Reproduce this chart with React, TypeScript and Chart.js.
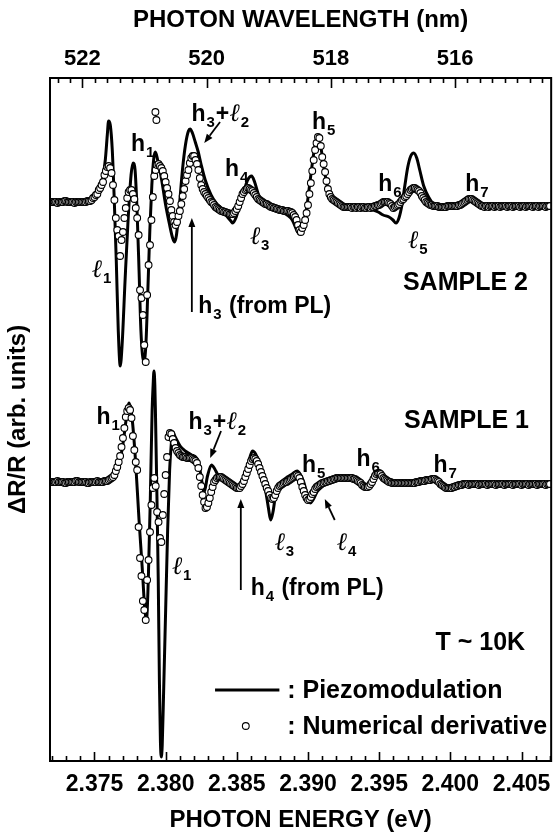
import React, { useEffect, useRef } from 'react';
import { Chart, registerables } from 'chart.js';

Chart.register(...registerables);

// ---------- data ----------
// Photon-energy sampling grid of the numerical derivative (eV)
const DERIV_ENERGY = [
  2.3720, 2.3721, 2.3722, 2.3723, 2.3724, 2.3725, 2.3726, 2.3727, 2.3728, 2.3729,
  2.3730, 2.3731, 2.3732, 2.3733, 2.3734, 2.3735, 2.3736, 2.3737, 2.3738, 2.3739,
  2.3740, 2.3741, 2.3742, 2.3743, 2.3744, 2.3745, 2.3746, 2.3747, 2.3748, 2.3749,
  2.3750, 2.3751, 2.3752, 2.3753, 2.3754, 2.3755, 2.3756, 2.3757, 2.3758, 2.3759,
  2.3760, 2.3761, 2.3762, 2.3763, 2.3764, 2.3765, 2.3766, 2.3767, 2.3768, 2.3769,
  2.3770, 2.3771, 2.3772, 2.3773, 2.3774, 2.3775, 2.3776, 2.3777, 2.3778, 2.3779,
  2.3780, 2.3781, 2.3782, 2.3783, 2.3784, 2.3785, 2.3786, 2.3787, 2.3788, 2.3789,
  2.3790, 2.3791, 2.3792, 2.3793, 2.3794, 2.3795, 2.3796, 2.3797, 2.3798, 2.3799,
  2.3800, 2.3801, 2.3802, 2.3803, 2.3804, 2.3805, 2.3806, 2.3807, 2.3808, 2.3809,
  2.3810, 2.3811, 2.3812, 2.3813, 2.3814, 2.3815, 2.3816, 2.3817, 2.3818, 2.3819,
  2.3820, 2.3821, 2.3822, 2.3823, 2.3824, 2.3825, 2.3826, 2.3827, 2.3828, 2.3829,
  2.3830, 2.3831, 2.3832, 2.3833, 2.3834, 2.3835, 2.3836, 2.3837, 2.3838, 2.3839,
  2.3840, 2.3841, 2.3842, 2.3843, 2.3844, 2.3845, 2.3846, 2.3847, 2.3848, 2.3849,
  2.3850, 2.3851, 2.3852, 2.3853, 2.3854, 2.3855, 2.3856, 2.3857, 2.3858, 2.3859,
  2.3860, 2.3861, 2.3862, 2.3863, 2.3864, 2.3865, 2.3866, 2.3867, 2.3868, 2.3869,
  2.3870, 2.3871, 2.3872, 2.3873, 2.3874, 2.3875, 2.3876, 2.3877, 2.3878, 2.3879,
  2.3880, 2.3881, 2.3882, 2.3883, 2.3884, 2.3885, 2.3886, 2.3887, 2.3888, 2.3889,
  2.3890, 2.3891, 2.3892, 2.3893, 2.3894, 2.3895, 2.3896, 2.3897, 2.3898, 2.3899,
  2.3900, 2.3901, 2.3902, 2.3903, 2.3904, 2.3905, 2.3906, 2.3907, 2.3908, 2.3909,
  2.3910, 2.3911, 2.3912, 2.3913, 2.3914, 2.3915, 2.3916, 2.3917, 2.3918, 2.3919,
  2.3920, 2.3921, 2.3922, 2.3923, 2.3924, 2.3925, 2.3926, 2.3927, 2.3928, 2.3929,
  2.3930, 2.3931, 2.3932, 2.3933, 2.3934, 2.3935, 2.3936, 2.3937, 2.3938, 2.3939,
  2.3940, 2.3941, 2.3942, 2.3943, 2.3944, 2.3945, 2.3946, 2.3947, 2.3948, 2.3949,
  2.3950, 2.3951, 2.3952, 2.3953, 2.3954, 2.3955, 2.3956, 2.3957, 2.3958, 2.3959,
  2.3960, 2.3961, 2.3962, 2.3963, 2.3964, 2.3965, 2.3966, 2.3967, 2.3968, 2.3969,
  2.3970, 2.3971, 2.3972, 2.3973, 2.3974, 2.3975, 2.3976, 2.3977, 2.3978, 2.3979,
  2.3980, 2.3981, 2.3982, 2.3983, 2.3984, 2.3985, 2.3986, 2.3987, 2.3988, 2.3989,
  2.3990, 2.3991, 2.3992, 2.3993, 2.3994, 2.3995, 2.3996, 2.3997, 2.3998, 2.3999,
  2.4000, 2.4001, 2.4002, 2.4003, 2.4004, 2.4005, 2.4006, 2.4007, 2.4008, 2.4009,
  2.4010, 2.4011, 2.4012, 2.4013, 2.4014, 2.4015, 2.4016, 2.4017, 2.4018, 2.4019,
  2.4020, 2.4021, 2.4022, 2.4023, 2.4024, 2.4025, 2.4026, 2.4027, 2.4028, 2.4029,
  2.4030, 2.4031, 2.4032, 2.4033, 2.4034, 2.4035, 2.4036, 2.4037, 2.4038, 2.4039,
  2.4040, 2.4041, 2.4042, 2.4043, 2.4044, 2.4045, 2.4046, 2.4047, 2.4048, 2.4049,
  2.4050, 2.4051, 2.4052, 2.4053, 2.4054, 2.4055, 2.4056, 2.4057, 2.4058, 2.4059,
  2.4060, 2.4061, 2.4062, 2.4063, 2.4064, 2.4065, 2.4066, 2.4067, 2.4068, 2.4069,
  2.4070,
];

// SAMPLE 2 — numerical derivative (arb. units)
const S2_DERIV = [
  2, 2, 2, 2, 1, 2, 2, 2, 2, 3,
  3, 2, 2, 2, 2, 2, 1, 2, 2, 2,
  2, 2, 2, 2, 2, 3, 3, 3, 4, 6,
  7, 9, 10, 14, 16, 19, 22, 29, 33, 37,
  38, 36, 31, 19, 4, -14, -26, -32, -52, -36,
  -28, -14, -4, 6, 12, 14, 14, 10, 5, -4,
  -14, -31, -86, -94, -111, -141, -158, -91, -61, -41,
  -16, 7, 28, 34, 39, 40, 38, 36, 33, 28,
  22, 16, 10, 3, -6, -12, -18, -21, -18, -12,
  -7, 0, 8, 15, 23, 29, 34, 41, 46, 48,
  48, 44, 40, 34, 26, 19, 15, 12, 10, 8,
  6, 4, 2, 1, -1, -3, -4, -5, -6, -7,
  -7, -8, -8, -9, -9, -10, -10, -10, -9, -7,
  -5, -2, 2, 6, 10, 12, 14, 15, 16, 15,
  14, 13, 11, 9, 7, 5, 4, 3, 2, 1,
  0, 0, -1, -2, -3, -3, -4, -4, -5, -5,
  -6, -6, -6, -7, -7, -7, -7, -8, -8, -9,
  -11, -13, -16, -21, -26, -28, -24, -21, -16, -9,
  -1, 10, 21, 33, 44, 54, 61, 67, 66, 58,
  47, 40, 32, 23, 15, 10, 7, 5, 4, 3,
  2, 1, 0, -1, -2, -3, -3, -3, -3, -3,
  -3, -4, -3, -3, -4, -3, -3, -4, -3, -3,
  -4, -4, -3, -3, -4, -3, -3, -2, -2, -1,
  -1, 0, 1, 2, 2, 2, 2, 1, 0, -2,
  -4, -3, -2, -1, 0, 2, 4, 5, 7, 8,
  10, 12, 14, 15, 16, 16, 15, 14, 13, 11,
  8, 6, 4, 2, 1, 0, -1, -1, -2, -2,
  -2, -2, -3, -3, -3, -3, -3, -3, -2, -2,
  -2, -2, -2, -2, -2, -2, -1, -1, 0, 1,
  2, 3, 4, 5, 5, 5, 4, 3, 2, 1,
  0, -1, -2, -2, -3, -2, -2, -3, -2, -2,
  -2, -3, -2, -2, -2, -3, -2, -2, -2, -2,
  -3, -2, -2, -2, -3, -2, -2, -2, -2, -3,
  -2, -2, -2, -3, -2, -2, -2, -2, -3, -2,
  -2, -2, -3, -2, -2, -2, -2, -3, -2, -2,
  -2,
];
const S2_DERIV_EXTRA_E = [2.37928, 2.37935];
const S2_DERIV_EXTRA_V = [92, 84];

// SAMPLE 2 — piezomodulation
const S2_PIEZO_E = [
  2.37188, 2.37326, 2.37431, 2.37465, 2.37500, 2.37535, 2.37556, 2.37576, 2.37590, 2.37599,
  2.37611, 2.37625, 2.37639, 2.37653, 2.37667, 2.37681, 2.37694, 2.37715, 2.37736, 2.37757,
  2.37771, 2.37785, 2.37799, 2.37813, 2.37826, 2.37847, 2.37861, 2.37875, 2.37889, 2.37903,
  2.37917, 2.37928, 2.37944, 2.37972, 2.38000, 2.38028, 2.38049, 2.38063, 2.38076, 2.38097,
  2.38118, 2.38139, 2.38160, 2.38172, 2.38188, 2.38208, 2.38229, 2.38250, 2.38278, 2.38319,
  2.38354, 2.38389, 2.38424, 2.38458, 2.38472, 2.38493, 2.38521, 2.38549, 2.38576, 2.38604,
  2.38625, 2.38653, 2.38681, 2.38715, 2.38785, 2.38854, 2.38889, 2.38924, 2.38938, 2.38958,
  2.38986, 2.39007, 2.39028, 2.39049, 2.39069, 2.39090, 2.39111, 2.39139, 2.39167, 2.39201,
  2.39271, 2.39340, 2.39410, 2.39458, 2.39493, 2.39528, 2.39569, 2.39597, 2.39618, 2.39639,
  2.39660, 2.39681, 2.39701, 2.39722, 2.39743, 2.39764, 2.39785, 2.39813, 2.39847, 2.39896,
  2.39965, 2.40035, 2.40104, 2.40153, 2.40194, 2.40243, 2.40313, 2.40451, 2.40590, 2.40708,
];
const S2_PIEZO_V = [
  2, 2, 2, 4, 7, 14, 24, 44, 69, 83,
  79, 54, 4, -56, -126, -162, -141, -76, -16, 29,
  41, 34, -6, -66, -126, -158, -141, -86, -26, 19,
  46, 52, 44, 24, -1, -21, -34, -38, -31, -1,
  34, 59, 73, 75, 71, 62, 52, 39, 24, 9,
  1, -4, -11, -17, -19, -14, -1, 12, 24, 28,
  22, 9, 2, -1, -6, -11, -16, -27, -30, -24,
  -8, 14, 38, 58, 65, 57, 37, 16, 8, 4,
  -2, -4, -5, -6, -8, -11, -13, -16, -19, -14,
  -1, 19, 37, 48, 51, 46, 34, 18, 7, -2,
  -4, -2, 1, 4, 2, -2, -3, -2, -2, -2,
];

// SAMPLE 1 — numerical derivative
const S1_DERIV = [
  0, 0, 0, 0, 1, 0, 0, 0, 0, -1,
  -1, 0, 0, 0, 0, 0, 0, 1, 1, 0,
  0, 0, 0, 0, 0, -1, -1, 0, 0, 0,
  0, 0, 1, 0, 0, 0, 0, 1, 1, 1,
  2, 3, 4, 5, 7, 11, 15, 20, 26, 35,
  44, 54, 65, 71, 74, 72, 64, 46, 32, 20,
  12, -45, -76, -94, -119, -128, -138, -98, -78, -50,
  -23, -6, 4, -4, -30, -40, -56, -60, -33, -12,
  7, 25, 45, 49, 48, 43, 39, 34, 31, 29,
  27, 26, 25, 25, 25, 24, 24, 24, 24, 23,
  22, 21, 19, 14, 5, -4, -13, -20, -26, -25,
  -21, -16, -10, -5, 0, 2, 4, 5, 5, 5,
  4, 3, 2, 1, 0, -1, -2, -3, -4, -5,
  -6, -6, -6, -4, -2, 1, 5, 9, 13, 17,
  21, 23, 24, 23, 21, 18, 14, 10, 6, 2,
  -2, -6, -9, -13, -16, -17, -16, -13, -9, -6,
  -4, -3, -2, -1, 0, 0, 1, 2, 3, 4,
  5, 6, 7, 6, 4, 0, -5, -9, -13, -16,
  -18, -17, -15, -12, -10, -7, -5, -4, -3, -2,
  -1, -1, 0, 0, 1, 1, 2, 2, 3, 3,
  4, 4, 4, 4, 4, 4, 4, 4, 4, 4,
  4, 4, 3, 3, 2, 1, 0, -1, -3, -4,
  -5, -5, -5, -4, -2, 0, 3, 6, 8, 9,
  9, 8, 6, 4, 3, 2, 1, 0, 0, -1,
  -1, -1, -1, -1, -1, -1, -1, -1, -1, -1,
  -1, -1, -1, -1, -1, -1, 0, 0, 0, 1,
  1, 1, 1, 2, 2, 2, 2, 3, 3, 3,
  2, 1, 0, -2, -3, -4, -5, -6, -6, -6,
  -6, -6, -5, -5, -4, -4, -3, -3, -3, -2,
  -2, -2, -2, -3, -2, -2, -2, -2, -2, -2,
  -3, -2, -2, -2, -2, -2, -3, -2, -2, -2,
  -2, -2, -3, -2, -2, -2, -2, -2, -3, -2,
  -2, -2, -2, -2, -3, -2, -2, -2, -2, -2,
  -3, -2, -2, -2, -2, -3, -2, -2, -2, -2,
  -2, -3, -2, -2, -2, -2, -2, -3, -2, -2,
  -2,
];

// SAMPLE 1 — piezomodulation
const S1_PIEZO_E = [
  2.37188, 2.37396, 2.37569, 2.37604, 2.37632, 2.37660, 2.37681, 2.37701, 2.37722, 2.37743,
  2.37764, 2.37788, 2.37813, 2.37835, 2.37854, 2.37865, 2.37878, 2.37892, 2.37905, 2.37912,
  2.37918, 2.37924, 2.37928, 2.37938, 2.37948, 2.37956, 2.37963, 2.37969, 2.37976, 2.37986,
  2.38000, 2.38014, 2.38028, 2.38040, 2.38049, 2.38067, 2.38102, 2.38137, 2.38183, 2.38217,
  2.38241, 2.38271, 2.38294, 2.38322, 2.38345, 2.38368, 2.38403, 2.38438, 2.38472, 2.38507,
  2.38530, 2.38554, 2.38576, 2.38597, 2.38611, 2.38632, 2.38658, 2.38681, 2.38704, 2.38722,
  2.38738, 2.38754, 2.38773, 2.38792, 2.38819, 2.38854, 2.38889, 2.38924, 2.38944, 2.38970,
  2.38993, 2.39016, 2.39035, 2.39063, 2.39097, 2.39155, 2.39201, 2.39271, 2.39326, 2.39375,
  2.39410, 2.39438, 2.39465, 2.39491, 2.39514, 2.39549, 2.39604, 2.39665, 2.39757, 2.39826,
  2.39896, 2.39938, 2.39979, 2.40012, 2.40056, 2.40125, 2.40243, 2.40451, 2.40708,
];
const S1_PIEZO_V = [
  0, 0, 0, 1, 4, 12, 23, 39, 62, 79,
  64, 22, -38, -85, -128, -138, -98, -18, 72, 97,
  111, 97, 72, -8, -98, -198, -258, -275, -263, -208,
  -128, -48, 12, 39, 50, 45, 36, 31, 27, 24,
  12, -10, 6, 17, 13, 7, 4, 1, -3, -6,
  -6, 4, 16, 27, 31, 28, 19, 7, -10, -26,
  -38, -30, -12, -4, 1, 5, 8, 11, 8, 0,
  -12, -21, -18, -10, -5, 0, 2, 4, 3, -1,
  -5, -3, 4, 9, 7, 2, -1, -1, 0, 1,
  3, -1, -5, -6, -4, -2, -2, -2, -2,
];

// vertical stacking offsets of the two spectra (arb. units)
const SAMPLE2_OFFSET = 557;
const SAMPLE1_OFFSET = 279;

// axes
const ENERGY_MIN = 2.371875;
const ENERGY_MAX = 2.407083;
const ENERGY_TICK_LABELS = [2.375, 2.38, 2.385, 2.39, 2.395, 2.4, 2.405];
const WAVELENGTH_MIN = 514.452;
const WAVELENGTH_MAX = 522.521;
const WAVELENGTH_TICK_LABELS = [522, 520, 518, 516];
const Y_MIN = 0;
const Y_MAX = 683;

const ENERGY_MINOR: number[] = [];
for (let k = 2372; k <= 2407; k++) ENERGY_MINOR.push(k / 1000);
const WAVELENGTH_MINOR: number[] = [];
for (let k = 5146; k <= 5224; k += 2) WAVELENGTH_MINOR.push(k / 10);

// ---------- annotations ----------
const FONT = '"Liberation Sans", Arial, Helvetica, sans-serif';
const ELL_FONT = '"DejaVu Serif", "Liberation Serif", serif';

type Part = { t: string; kind?: 'sub' | 'ell' };
type Label = { x: number; y: number; parts: Part[]; size?: number };
const H = (n: string): Part[] => [{ t: 'h' }, { t: n, kind: 'sub' }];
const L = (n: string): Part[] => [{ t: 'ℓ', kind: 'ell' }, { t: n, kind: 'sub' }];

const LABELS: Label[] = [
  // sample 2
  { x: 2.37479, y: 484, parts: L('1') },
  { x: 2.37757, y: 610, parts: H('1') },
  { x: 2.38181, y: 640, parts: [...H('3'), { t: '+' }, ...L('2')] },
  { x: 2.38417, y: 585, parts: H('4') },
  { x: 2.38590, y: 517, parts: L('3') },
  { x: 2.39028, y: 632, parts: H('5') },
  { x: 2.39493, y: 570, parts: H('6') },
  { x: 2.39701, y: 513, parts: L('5') },
  { x: 2.40104, y: 570, parts: H('7') },
  { x: 2.38229, y: 448, parts: [...H('3'), { t: ' (from PL)' }] },
  { x: 2.39667, y: 471, parts: [{ t: 'SAMPLE 2' }], size: 25 },
  // sample 1
  { x: 2.37514, y: 337, parts: H('1') },
  { x: 2.38160, y: 332, parts: [...H('3'), { t: '+' }, ...L('2')] },
  { x: 2.38042, y: 187, parts: L('1') },
  { x: 2.38764, y: 211, parts: L('3') },
  { x: 2.38597, y: 166, parts: [...H('4'), { t: ' (from PL)' }] },
  { x: 2.38958, y: 289, parts: H('5') },
  { x: 2.39201, y: 211, parts: L('4') },
  { x: 2.39340, y: 295, parts: H('6') },
  { x: 2.39882, y: 289, parts: H('7') },
  { x: 2.39674, y: 333, parts: [{ t: 'SAMPLE 1' }], size: 25 },
  { x: 2.39896, y: 111, parts: [{ t: 'T ~ 10K' }], size: 25 },
];

const ARROWS = [
  { x1: 2.38382, y1: 639, x2: 2.38271, y2: 618 },
  { x1: 2.38184, y1: 449, x2: 2.38184, y2: 543 },
  { x1: 2.38389, y1: 330, x2: 2.38313, y2: 303 },
  { x1: 2.38528, y1: 171, x2: 2.38528, y2: 262 },
  { x1: 2.39188, y1: 241, x2: 2.39118, y2: 262 },
];

const LEGEND = {
  lineX1: 2.38347, lineX2: 2.38799, lineY: 71,
  markX: 2.38563, markY: 35,
  textX: 2.38854,
};

const isIn = (v: number, arr: number[]) => arr.some((a) => Math.abs(a - v) < 1e-6);

const overlayPlugin = {
  id: 'overlay',
  beforeDraw(chart: any) {
    const { ctx } = chart;
    ctx.save();
    ctx.fillStyle = '#fff';
    ctx.fillRect(0, 0, chart.width, chart.height);
    ctx.restore();
  },
  afterDraw(chart: any) {
    const { ctx, chartArea: a, scales } = chart;
    const xs = scales.x;
    const xt = scales.xTop;
    const ys = scales.y;
    ctx.save();
    ctx.strokeStyle = '#000';
    ctx.fillStyle = '#000';
    ctx.lineWidth = 2;
    ctx.strokeRect(a.left, a.top, a.right - a.left, a.bottom - a.top);
    // inward tick marks
    ctx.lineWidth = 1.6;
    ctx.beginPath();
    for (const t of xs.ticks) {
      const px = Math.round(xs.getPixelForValue(t.value)) + 0.5;
      const len = isIn(t.value, ENERGY_TICK_LABELS) ? 9 : 5;
      ctx.moveTo(px, a.bottom);
      ctx.lineTo(px, a.bottom - len);
    }
    for (const t of xt.ticks) {
      const px = Math.round(xt.getPixelForValue(t.value)) + 0.5;
      const len = isIn(t.value, WAVELENGTH_TICK_LABELS) ? 10 : 5;
      ctx.moveTo(px, a.top);
      ctx.lineTo(px, a.top + len);
    }
    ctx.stroke();

    // labels
    ctx.textBaseline = 'alphabetic';
    ctx.textAlign = 'left';
    for (const l of LABELS) {
      let cx = xs.getPixelForValue(l.x);
      const by = ys.getPixelForValue(l.y);
      const size = l.size || 23;
      for (const p of l.parts) {
        if (p.kind === 'sub') {
          ctx.font = `bold 15px ${FONT}`;
          ctx.fillText(p.t, cx + 1, by + 6);
          cx += ctx.measureText(p.t).width + 2;
        } else if (p.kind === 'ell') {
          ctx.font = `italic 25px ${ELL_FONT}`;
          ctx.fillText(p.t, cx, by);
          cx += ctx.measureText(p.t).width;
        } else {
          ctx.font = `bold ${size}px ${FONT}`;
          ctx.fillText(p.t, cx, by);
          cx += ctx.measureText(p.t).width;
        }
      }
    }

    // arrows
    ctx.lineWidth = 1.8;
    for (const ar of ARROWS) {
      const x1 = xs.getPixelForValue(ar.x1), y1 = ys.getPixelForValue(ar.y1);
      const x2 = xs.getPixelForValue(ar.x2), y2 = ys.getPixelForValue(ar.y2);
      const ang = Math.atan2(y2 - y1, x2 - x1);
      const hl = 9, hw = 3.5;
      const bx = x2 - hl * Math.cos(ang), by = y2 - hl * Math.sin(ang);
      ctx.beginPath();
      ctx.moveTo(x1, y1);
      ctx.lineTo(bx, by);
      ctx.stroke();
      ctx.beginPath();
      ctx.moveTo(x2, y2);
      ctx.lineTo(bx + hw * Math.sin(ang), by - hw * Math.cos(ang));
      ctx.lineTo(bx - hw * Math.sin(ang), by + hw * Math.cos(ang));
      ctx.closePath();
      ctx.fill();
    }

    // legend
    const lx1 = xs.getPixelForValue(LEGEND.lineX1), lx2 = xs.getPixelForValue(LEGEND.lineX2);
    const ly = ys.getPixelForValue(LEGEND.lineY);
    ctx.lineWidth = 3;
    ctx.beginPath();
    ctx.moveTo(lx1, ly);
    ctx.lineTo(lx2, ly);
    ctx.stroke();
    const mx = xs.getPixelForValue(LEGEND.markX), my = ys.getPixelForValue(LEGEND.markY);
    ctx.lineWidth = 1.1;
    ctx.beginPath();
    ctx.arc(mx, my, 3.4, 0, Math.PI * 2);
    ctx.fillStyle = '#fff';
    ctx.fill();
    ctx.stroke();
    ctx.fillStyle = '#000';
    ctx.font = `bold 25px ${FONT}`;
    ctx.textBaseline = 'middle';
    const tx = xs.getPixelForValue(LEGEND.textX);
    ctx.fillText(': Piezomodulation', tx, ly + 1);
    ctx.fillText(': Numerical derivative', tx, my + 1);
    ctx.restore();
  },
};

const pts = (xs: number[], vs: number[], off: number) => xs.map((x, i) => ({ x, y: vs[i] + off }));

export default function App() {
  const ref = useRef<HTMLCanvasElement | null>(null);
  useEffect(() => {
    if (!ref.current) return;
    const circleStyle = {
      showLine: false,
      pointRadius: 3.4,
      pointHoverRadius: 3.4,
      pointBorderWidth: 1.1,
      pointBackgroundColor: '#fff',
      pointBorderColor: '#000',
      borderColor: '#000',
      backgroundColor: '#fff',
      order: 0,
    };
    const lineStyle = {
      showLine: true,
      borderColor: '#000',
      borderWidth: 3,
      pointRadius: 0,
      cubicInterpolationMode: 'monotone' as const,
      fill: false,
      order: 1,
    };
    const chart = new Chart(ref.current, {
      type: 'scatter',
      data: {
        datasets: [
          {
            ...circleStyle,
            label: 'Numerical derivative (sample 2)',
            data: [
              ...pts(DERIV_ENERGY, S2_DERIV, SAMPLE2_OFFSET),
              ...pts(S2_DERIV_EXTRA_E, S2_DERIV_EXTRA_V, SAMPLE2_OFFSET),
            ],
          },
          {
            ...circleStyle,
            label: 'Numerical derivative (sample 1)',
            data: pts(DERIV_ENERGY, S1_DERIV, SAMPLE1_OFFSET),
          },
          {
            ...lineStyle,
            type: 'line',
            label: 'Piezomodulation (sample 2)',
            data: pts(S2_PIEZO_E, S2_PIEZO_V, SAMPLE2_OFFSET),
          },
          {
            ...lineStyle,
            type: 'line',
            label: 'Piezomodulation (sample 1)',
            data: pts(S1_PIEZO_E, S1_PIEZO_V, SAMPLE1_OFFSET),
          },
        ] as any,
      },
      options: {
        animation: false,
        responsive: false,
        devicePixelRatio: 1,
        layout: { padding: { left: 0, right: 3, top: 0, bottom: 0 } },
        plugins: { legend: { display: false }, tooltip: { enabled: false } },
        scales: {
          x: {
            type: 'linear',
            position: 'bottom',
            min: ENERGY_MIN,
            max: ENERGY_MAX,
            afterBuildTicks: (s: any) => { s.ticks = ENERGY_MINOR.map((v) => ({ value: v })); },
            afterFit: (s: any) => { s.height = 78; },
            grid: { display: false, drawTicks: false },
            border: { display: false },
            ticks: {
              autoSkip: false,
              maxRotation: 0,
              minRotation: 0,
              padding: 10,
              color: '#000',
              font: { family: FONT, size: 23, weight: 'bold' },
              callback: (v: any) => (isIn(Number(v), ENERGY_TICK_LABELS) ? Number(v).toFixed(3) : ''),
            },
            title: {
              display: true,
              text: 'PHOTON ENERGY (eV)',
              color: '#000',
              font: { family: FONT, size: 24, weight: 'bold' },
              padding: { top: 0, bottom: 4 },
            },
          },
          xTop: {
            type: 'linear',
            position: 'top',
            reverse: true,
            min: WAVELENGTH_MIN,
            max: WAVELENGTH_MAX,
            afterBuildTicks: (s: any) => { s.ticks = WAVELENGTH_MINOR.map((v) => ({ value: v })); },
            afterFit: (s: any) => { s.height = 78; },
            grid: { display: false, drawTicks: false },
            border: { display: false },
            ticks: {
              autoSkip: false,
              maxRotation: 0,
              minRotation: 0,
              padding: 6,
              color: '#000',
              font: { family: FONT, size: 22, weight: 'bold' },
              callback: (v: any) => (isIn(Number(v), WAVELENGTH_TICK_LABELS) ? String(Math.round(Number(v))) : ''),
            },
            title: {
              display: true,
              text: 'PHOTON WAVELENGTH (nm)',
              color: '#000',
              font: { family: FONT, size: 24, weight: 'bold' },
              padding: { top: 6, bottom: 0 },
            },
          },
          y: {
            type: 'linear',
            position: 'left',
            min: Y_MIN,
            max: Y_MAX,
            afterFit: (s: any) => { s.width = 50; },
            grid: { display: false, drawTicks: false },
            border: { display: false },
            ticks: { display: false },
            title: {
              display: true,
              text: 'ΔR/R (arb. units)',
              color: '#000',
              font: { family: FONT, size: 24, weight: 'bold' },
              padding: { top: 4, bottom: 0 },
            },
          },
        },
      } as any,
      plugins: [overlayPlugin],
    });
    return () => chart.destroy();
  }, []);
  return (
    <div style={{ position: 'fixed', left: 0, top: 0, width: 560, height: 839, background: '#fff' }}>
      <canvas ref={ref} width={560} height={839} style={{ display: 'block', width: 560, height: 839 }} />
    </div>
  );
}
